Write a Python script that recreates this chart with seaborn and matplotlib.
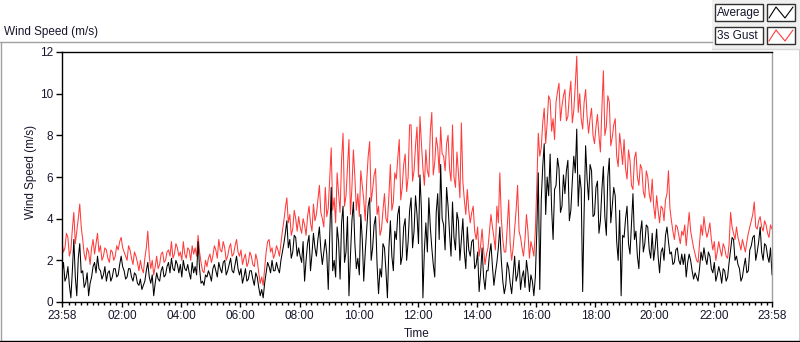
#Wind speed chart (average and 3s gust) over one day
import numpy as np
import pandas as pd
import matplotlib
matplotlib.use("Agg")
import matplotlib.pyplot as plt
import matplotlib.dates as mdates
import matplotlib.ticker as mticker
from matplotlib.patches import Rectangle
from matplotlib.lines import Line2D
import seaborn as sns

#Values, one every 3 minutes from 23:58 to 23:58 (20 per row = 1 hour)
gust = [
    2.9, 2.4, 2.6, 3.3, 3.1, 2.2, 2.5, 3.5, 4.3, 2.8, 3.4, 4.0, 4.7, 3.6, 3.0, 2.3, 2.0, 2.6, 2.4, 1.8,
    2.6, 3.0, 2.3, 2.8, 3.3, 2.4, 2.7, 2.0, 2.2, 2.6, 2.5, 2.1, 1.9, 2.5, 2.4, 2.0, 2.2, 2.7, 2.5, 2.9,
    3.1, 2.6, 2.4, 2.2, 2.0, 2.7, 2.5, 2.1, 1.8, 2.4, 2.2, 1.9, 1.5, 2.0, 1.6, 1.4, 2.1, 2.6, 3.4, 2.2,
    1.6, 2.0, 1.3, 1.7, 2.2, 1.6, 1.8, 2.3, 2.4, 1.9, 2.0, 2.4, 2.5, 2.2, 2.9, 2.1, 2.3, 2.8, 2.6, 2.2,
    2.4, 2.0, 2.9, 2.3, 2.1, 2.6, 2.5, 2.0, 2.7, 2.3, 2.6, 2.2, 3.2, 2.4, 1.9, 1.5, 1.4, 2.0, 1.7, 2.1,
    2.3, 1.9, 2.2, 2.7, 2.5, 2.1, 3.0, 2.5, 2.4, 2.9, 2.6, 2.0, 2.2, 2.6, 2.8, 2.2, 2.3, 2.7, 3.0, 2.4,
    2.2, 2.5, 1.8, 2.1, 2.3, 1.7, 1.9, 2.4, 2.2, 1.8, 1.7, 2.3, 2.0, 1.4, 0.9, 1.2, 0.8, 1.6, 2.4, 2.9,
    3.0, 2.4, 2.6, 2.1, 2.3, 2.7, 2.5, 2.2, 2.8, 3.4, 3.9, 4.5, 5.0, 3.8, 4.2, 3.2, 3.5, 4.4, 4.0, 3.4,
    4.1, 3.6, 3.3, 4.0, 3.7, 3.2, 4.1, 4.6, 3.8, 3.4, 4.7, 3.9, 4.2, 4.9, 5.6, 4.3, 4.0, 3.6, 5.5, 4.1,
    4.5, 6.0, 7.4, 4.4, 5.0, 3.8, 6.2, 5.2, 4.3, 6.8, 8.1, 4.6, 5.1, 6.5, 7.8, 4.2, 5.5, 7.3, 6.0, 4.4,
    5.2, 4.1, 6.3, 5.6, 4.9, 3.9, 5.8, 7.0, 7.7, 4.8, 5.4, 6.1, 6.4, 4.2, 4.6, 3.2, 3.5, 4.4, 5.2, 4.0,
    3.8, 5.1, 6.6, 4.4, 4.8, 6.2, 5.9, 6.9, 7.8, 4.9, 5.5, 6.6, 7.1, 5.3, 6.0, 8.5, 8.5, 5.8, 6.3, 7.5,
    8.4, 6.0, 8.9, 7.6, 6.4, 5.6, 7.3, 6.3, 6.0, 8.2, 9.1, 6.1, 6.7, 7.9, 7.4, 6.2, 8.4, 7.1, 7.0, 6.3,
    7.6, 8.0, 6.4, 5.8, 8.5, 6.0, 5.5, 7.2, 6.2, 5.0, 8.6, 5.8, 4.9, 4.2, 5.4, 4.4, 3.8, 4.3, 4.6, 3.4,
    3.0, 3.6, 2.2, 2.7, 3.5, 2.5, 1.8, 2.3, 2.6, 3.4, 4.2, 3.6, 3.1, 2.5, 4.6, 3.8, 6.2, 4.0, 3.0, 2.4,
    2.4, 3.6, 4.9, 2.8, 2.0, 2.6, 3.5, 4.4, 5.6, 3.4, 3.1, 2.6, 2.2, 3.0, 4.2, 3.4, 2.1, 2.9, 2.6, 2.2,
    3.4, 5.6, 8.1, 7.0, 7.4, 8.6, 9.3, 7.6, 8.6, 9.9, 9.7, 8.2, 8.8, 7.8, 9.6, 10.1, 10.5, 8.7, 9.4, 9.9,
    10.2, 8.7, 8.9, 9.9, 10.6, 8.6, 9.2, 10.4, 11.8, 9.1, 10.0, 8.8, 8.3, 9.6, 10.2, 8.9, 8.1, 8.8, 9.3, 8.0,
    7.6, 8.4, 9.0, 8.0, 7.2, 9.3, 11.1, 8.0, 8.4, 9.9, 9.6, 7.5, 7.9, 8.5, 8.8, 7.0, 6.5, 8.1, 7.4, 6.6,
    7.8, 6.4, 5.9, 7.3, 6.8, 5.6, 5.4, 6.9, 7.2, 6.0, 5.6, 6.6, 6.4, 5.3, 5.0, 6.3, 6.0, 5.2, 4.8, 5.9,
    4.6, 4.0, 5.1, 4.4, 3.8, 4.6, 4.5, 3.9, 4.9, 5.2, 6.3, 4.5, 3.9, 3.4, 3.0, 3.7, 3.6, 3.2, 2.8, 3.4,
    3.2, 3.7, 2.7, 3.5, 4.3, 3.4, 3.0, 2.6, 2.3, 2.0, 1.9, 2.8, 3.7, 3.2, 4.1, 3.5, 3.1, 3.4, 3.8, 3.0,
    2.5, 2.9, 2.0, 2.4, 2.9, 2.5, 2.2, 2.8, 2.6, 2.2, 2.1, 2.8, 4.3, 3.6, 3.3, 3.0, 3.6, 3.1, 2.8, 2.5,
    3.0, 2.7, 2.4, 2.9, 3.3, 3.6, 3.9, 4.2, 4.8, 3.6, 3.5, 3.9, 4.1, 3.6, 3.4, 3.9, 3.7, 3.3, 3.1, 3.7, 3.5,
]
average = [
    1.4, 1.9, 1.0, 1.2, 1.7, 0.8, 0.2, 1.5, 3.0, 1.2, 0.3, 2.1, 2.8, 1.4, 1.5, 0.7, 0.9, 1.4, 0.3, 0.9,
    1.2, 1.7, 1.9, 1.4, 2.2, 1.6, 1.5, 1.1, 1.3, 1.7, 1.0, 1.4, 1.5, 1.0, 1.2, 1.6, 1.6, 1.2, 1.3, 1.8,
    2.2, 1.7, 1.5, 1.1, 1.2, 1.6, 1.6, 1.2, 1.0, 1.4, 1.3, 0.9, 0.8, 1.1, 0.6, 0.8, 1.0, 1.5, 1.9, 1.2,
    0.9, 1.3, 0.3, 0.9, 1.4, 1.1, 1.0, 1.5, 1.7, 1.2, 1.3, 1.7, 1.9, 1.4, 2.1, 1.6, 1.5, 2.0, 1.8, 1.4,
    1.8, 1.2, 2.0, 1.6, 1.5, 1.8, 1.4, 1.1, 1.9, 1.4, 1.7, 1.3, 2.9, 1.6, 0.9, 1.0, 0.8, 1.3, 1.2, 1.5,
    1.3, 1.0, 1.6, 1.8, 1.5, 1.2, 1.9, 1.6, 1.4, 1.9, 2.0, 1.3, 1.5, 1.8, 2.1, 1.5, 1.4, 1.8, 2.2, 1.6,
    1.3, 1.6, 0.9, 1.2, 1.6, 1.0, 1.1, 1.5, 1.5, 1.1, 0.8, 1.4, 1.2, 0.7, 0.3, 0.6, 0.2, 0.9, 1.4, 1.9,
    1.7, 1.4, 2.0, 1.5, 1.5, 1.9, 1.6, 1.4, 2.0, 2.4, 2.8, 3.3, 3.9, 2.6, 3.0, 2.1, 2.4, 3.2, 3.1, 2.2,
    2.6, 2.2, 1.9, 2.9, 1.0, 2.0, 2.8, 3.2, 1.5, 2.3, 3.3, 2.6, 2.2, 3.0, 3.6, 2.5, 1.8, 2.4, 3.0, 2.3,
    0.6, 3.2, 5.5, 1.5, 2.0, 1.2, 3.6, 2.9, 1.1, 3.8, 4.6, 1.9, 2.4, 4.1, 0.3, 2.2, 3.9, 4.8, 2.8, 1.6,
    2.1, 1.3, 4.2, 3.0, 1.0, 2.4, 3.5, 4.6, 5.0, 2.0, 2.6, 3.7, 4.1, 1.8, 0.4, 1.6, 1.2, 2.8, 2.6, 1.5,
    0.2, 2.6, 3.9, 2.2, 1.5, 3.4, 3.0, 4.2, 4.6, 1.8, 2.2, 3.6, 4.0, 2.0, 2.9, 4.4, 5.0, 2.6, 3.4, 5.1,
    4.2, 2.8, 6.1, 4.4, 0.2, 2.5, 3.8, 2.4, 5.0, 3.6, 2.6, 1.8, 1.2, 4.3, 5.2, 3.0, 6.6, 4.0, 3.7, 2.5,
    5.5, 4.6, 3.3, 2.2, 4.8, 3.1, 2.5, 4.3, 3.9, 2.0, 3.0, 4.0, 2.4, 1.6, 3.6, 2.5, 2.2, 2.9, 3.0, 1.6,
    1.8, 2.4, 0.5, 1.4, 2.6, 1.2, 0.6, 1.5, 1.5, 2.3, 2.8, 1.7, 0.8, 1.4, 1.9, 2.6, 3.6, 2.0, 1.0, 0.4,
    0.8, 1.9, 1.6, 0.9, 0.4, 1.3, 2.2, 1.0, 1.3, 2.0, 0.6, 1.2, 1.5, 0.7, 2.0, 1.4, 0.5, 1.3, 1.0, 0.3,
    1.2, 3.4, 6.2, 0.6, 4.9, 6.5, 7.6, 4.2, 6.0, 5.1, 7.1, 4.5, 3.0, 5.4, 5.6, 6.9, 6.4, 4.3, 4.6, 6.1,
    5.2, 6.3, 6.8, 3.9, 4.4, 5.8, 7.0, 6.2, 8.3, 4.6, 6.1, 5.4, 0.5, 4.4, 7.5, 5.9, 4.9, 6.6, 6.3, 4.1,
    4.2, 5.5, 5.8, 3.3, 3.9, 5.4, 6.5, 4.1, 3.2, 6.0, 6.9, 3.8, 4.6, 5.5, 5.1, 2.9, 2.0, 4.4, 0.3, 3.2,
    3.1, 4.0, 4.6, 2.8, 2.3, 3.7, 5.2, 3.0, 3.4, 2.2, 1.6, 3.3, 3.9, 2.4, 2.8, 3.7, 3.6, 2.5, 2.1, 3.3,
    2.0, 2.6, 3.5, 2.2, 1.4, 2.4, 2.6, 2.0, 3.2, 3.6, 2.9, 2.3, 2.4, 1.8, 1.9, 2.5, 2.6, 2.0, 1.8, 2.3,
    1.8, 2.3, 1.2, 1.9, 2.3, 2.0, 1.5, 1.1, 1.4, 1.2, 1.0, 1.6, 2.4, 2.0, 2.6, 2.1, 1.8, 2.4, 2.2, 1.6,
    1.4, 1.9, 1.0, 1.3, 1.7, 1.4, 0.9, 1.6, 1.5, 1.0, 1.2, 1.9, 2.5, 3.1, 3.0, 2.0, 2.2, 1.8, 1.6, 1.0,
    1.2, 1.7, 2.1, 1.4, 1.5, 2.5, 2.7, 3.1, 3.2, 2.0, 2.4, 2.9, 3.6, 2.4, 2.0, 2.8, 2.7, 2.2, 1.9, 2.6, 1.3,
]

series_names = ["3s Gust", "Average"]   #gust drawn first, average on top
series_colors = {"3s Gust": "#ff3b3b", "Average": "black"}
y_ticks = [0, 2, 4, 6, 8, 10, 12]
start_time = "2000-01-01 23:58"
sample_step = "3min"

text_color = "#16162c"
W, H = 800, 342

#Helper: pixel position -> figure fraction
def px(x, y):
    return x / W, 1 - y / H

#Build the long table for seaborn
times = pd.date_range(start_time, periods=len(average), freq=sample_step)
df = pd.DataFrame({"Time": times, "Average": average, "3s Gust": gust})
long_df = df.melt(id_vars="Time", var_name="Series", value_name="Wind Speed")

sns.set_theme(style="white")
plt.rcParams["font.family"] = ["Liberation Sans", "DejaVu Sans"]
plt.rcParams["font.size"] = 8.5
plt.rcParams["text.color"] = text_color

fig = plt.figure(figsize=(W / 100, H / 100), dpi=100)
fig.patch.set_facecolor("white")

#Outer frame of the chart panel (gray top/left, black bottom/right)
fig.add_artist(Line2D([0, 712 / W], [px(0, 42)[1]] * 2, color="#a0a0a0", lw=1, transform=fig.transFigure))
fig.add_artist(Line2D([0.5 / W] * 2, [px(0, 42)[1], px(0, 341)[1]], color="#a0a0a0", lw=1, transform=fig.transFigure))
fig.add_artist(Line2D([0, 1], [px(0, 341)[1]] * 2, color="black", lw=1, transform=fig.transFigure))
fig.add_artist(Line2D([799.5 / W] * 2, [px(0, 49)[1], px(0, 341)[1]], color="black", lw=1, transform=fig.transFigure))

#Legend panel in the top right corner
x0, y0 = px(712, 49)
fig.add_artist(Rectangle((x0, y0), 1 - x0, 1 - y0, facecolor="#f0f0f0", edgecolor="none", transform=fig.transFigure))
fig.add_artist(Line2D([x0, 1], [y0, y0], color="#d8d8d8", lw=1, transform=fig.transFigure))
legend_rows = [("Average", 4, 21), ("3s Gust", 27, 44)]
for name, top, bottom in legend_rows:
    bx, by = px(715, bottom)
    fig.add_artist(Rectangle((bx, by), 48 / W, (bottom - top) / H, facecolor="white",
                             edgecolor="#303030", lw=1, transform=fig.transFigure))
    fig.text(*px(717, (top + bottom) / 2 + 0.5), name, ha="left", va="center", fontsize=8.5, color=text_color)
    ix, iy = px(767, bottom)
    fig.add_artist(Rectangle((ix, iy), 28 / W, (bottom - top) / H, facecolor="white",
                             edgecolor="#303030", lw=1, transform=fig.transFigure))
    #small zigzag glyph like the LabVIEW plot legend
    zx = [769, 776, 785, 793]
    zy = [bottom - 3, top + 3, bottom - 3, top + 3]
    fig.add_artist(Line2D([x / W for x in zx], [1 - y / H for y in zy], color=series_colors[name],
                          lw=0.8, transform=fig.transFigure))

#Chart title in the panel header
fig.text(*px(4, 32), "Wind Speed (m/s)", ha="left", va="center", fontsize=8.5, color=text_color)

#Plot area
ax = fig.add_axes([62 / W, 1 - 302 / H, 710 / W, 250 / H])
sns.lineplot(data=long_df, x="Time", y="Wind Speed", hue="Series", hue_order=series_names,
             palette=series_colors, estimator=None, lw=0.75, legend=False, ax=ax)

ax.set_xlim(times[0], times[-1])
ax.set_ylim(0, 12)
ax.set_yticks(y_ticks)

#Major ticks: ends of the range plus every 2 hours, minor ticks every 12 minutes
major = [times[0]] + list(pd.date_range("2000-01-02 02:00", "2000-01-02 22:00", freq="2h")) + [times[-1]]
minor = [t for t in pd.date_range("2000-01-02 00:12", "2000-01-02 23:48", freq="12min") if t.minute != 0 or t.hour % 2]
ax.xaxis.set_major_locator(mticker.FixedLocator(mdates.date2num(major)))
ax.xaxis.set_minor_locator(mticker.FixedLocator(mdates.date2num(minor)))
ax.xaxis.set_major_formatter(mdates.DateFormatter("%H:%M"))

ax.tick_params(axis="x", which="major", direction="out", length=3.5, width=1, pad=2.5,
               bottom=True, labelsize=8.5, labelcolor=text_color, color="black")
ax.tick_params(axis="x", which="minor", direction="out", length=2, width=1, bottom=True, color="black")
ax.tick_params(axis="y", which="major", direction="out", length=4.5, width=1, pad=2,
               left=True, labelsize=8.5, labelcolor=text_color, color="black")

ax.set_xlabel("Time", fontsize=8.5, color=text_color)
ax.xaxis.set_label_coords(0.5, -0.105)
ax.set_ylabel("Wind Speed (m/s)", fontsize=8.5, color=text_color)
ax.yaxis.set_label_coords(-0.035, 0.52)

for side in ["left", "top", "bottom"]:
    ax.spines[side].set_color("black")
    ax.spines[side].set_linewidth(1)
ax.spines["right"].set_color("#a0a0a0")
ax.spines["right"].set_linewidth(1)
ax.set_facecolor("white")

plt.savefig("out.png", dpi=100)
